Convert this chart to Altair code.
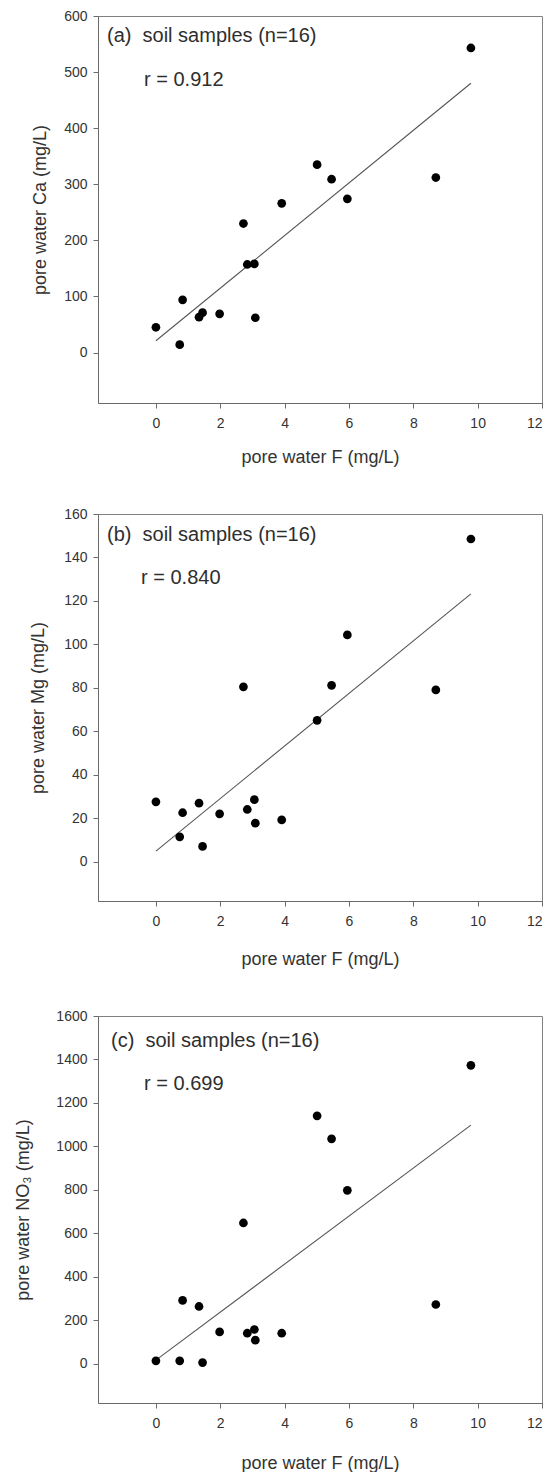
import altair as alt
import pandas as pd

# pore water F (mg/L), shared x values for all three panels
F = [0.0, 0.74, 0.83, 1.34, 1.45, 1.98, 2.72, 2.84, 3.06, 3.09, 3.91, 5.01, 5.46, 5.95, 8.70, 9.79]
# pore water Ca (mg/L)
Ca = [45, 14, 94, 63, 71, 69, 230, 157, 158, 62, 266, 335, 309, 274, 312, 543]
# pore water Mg (mg/L)
Mg = [27.6, 11.5, 22.6, 27.0, 7.1, 22.1, 80.5, 24.1, 28.6, 17.8, 19.3, 65.1, 81.2, 104.4, 79.1, 148.5]
# pore water NO3 (mg/L)
NO3 = [14, 14, 292, 264, 6, 147, 648, 141, 158, 109, 141, 1141, 1035, 798, 273, 1373]

panel_labels = ["(a)\u00a0\u00a0soil samples (n=16)",
                "(b)\u00a0\u00a0soil samples (n=16)",
                "(c)\u00a0\u00a0soil samples (n=16)"]
r_labels = ["r = 0.912", "r = 0.840", "r = 0.699"]
y_titles = ["pore water Ca (mg/L)", "pore water Mg (mg/L)", "pore water NO\u2083 (mg/L)"]
x_title = "pore water F (mg/L)"
x_ticks = [0, 2, 4, 6, 8, 10, 12]
y_ticks = [[0, 100, 200, 300, 400, 500, 600],
           [0, 20, 40, 60, 80, 100, 120, 140, 160],
           [0, 200, 400, 600, 800, 1000, 1200, 1400, 1600]]
y_domains = [[-90, 600], [-18, 160], [-180, 1600]]

FONT = "Liberation Sans"
W, H = 444, 387


def panel(i, yvals, x_tp, y_tp, lab_pos, r_pos):
    df = pd.DataFrame({"F": F, "Y": yvals})
    xenc = alt.X("F:Q",
                 scale=alt.Scale(domain=[-1.8, 12], nice=False, zero=False),
                 axis=alt.Axis(values=x_ticks, title=x_title, titlePadding=x_tp,
                               labelPadding=8, format="d"))
    yenc = alt.Y("Y:Q",
                 scale=alt.Scale(domain=y_domains[i], nice=False, zero=False),
                 axis=alt.Axis(values=y_ticks[i], title=y_titles[i], titlePadding=y_tp,
                               labelPadding=6, format="d"))
    base = alt.Chart(df)
    line = base.transform_regression("F", "Y").mark_line(
        color="#555555", strokeWidth=1.1).encode(x=xenc, y=yenc)
    pts = base.mark_circle(size=76, color="black", opacity=1).encode(x=xenc, y=yenc)
    t1 = alt.Chart(pd.DataFrame({"t": [panel_labels[i]]})).mark_text(
        align="left", baseline="alphabetic", fontSize=20, font=FONT, color="#2e2e2e"
    ).encode(text="t:N", x=alt.value(lab_pos[0]), y=alt.value(lab_pos[1]))
    t2 = alt.Chart(pd.DataFrame({"t": [r_labels[i]]})).mark_text(
        align="left", baseline="alphabetic", fontSize=20, font=FONT, color="#2e2e2e"
    ).encode(text="t:N", x=alt.value(r_pos[0]), y=alt.value(r_pos[1]))
    return alt.layer(line, pts, t1, t2).properties(width=W, height=H)


a = panel(0, Ca, 18, 14, (9, 26), (46, 70))
b = panel(1, Mg, 22, 16, (9, 27), (43, 70))
c = panel(2, NO3, 24, 23, (13, 31), (46, 74))

chart = alt.vconcat(a, b, c, spacing=39).properties(
    padding={"left": 6, "top": 0, "right": 5, "bottom": 0}
).configure_view(
    stroke="#808080", strokeWidth=1
).configure_axis(
    grid=False,
    domainColor="#6a6a6a",
    tickColor="#6a6a6a",
    tickSize=5,
    labelFont=FONT,
    labelFontSize=14,
    labelColor="#333333",
    titleFont=FONT,
    titleFontSize=18,
    titleFontWeight="normal",
    titleColor="#333333",
)

chart.save("out.html", embed_options={"renderer": "svg", "actions": False})
